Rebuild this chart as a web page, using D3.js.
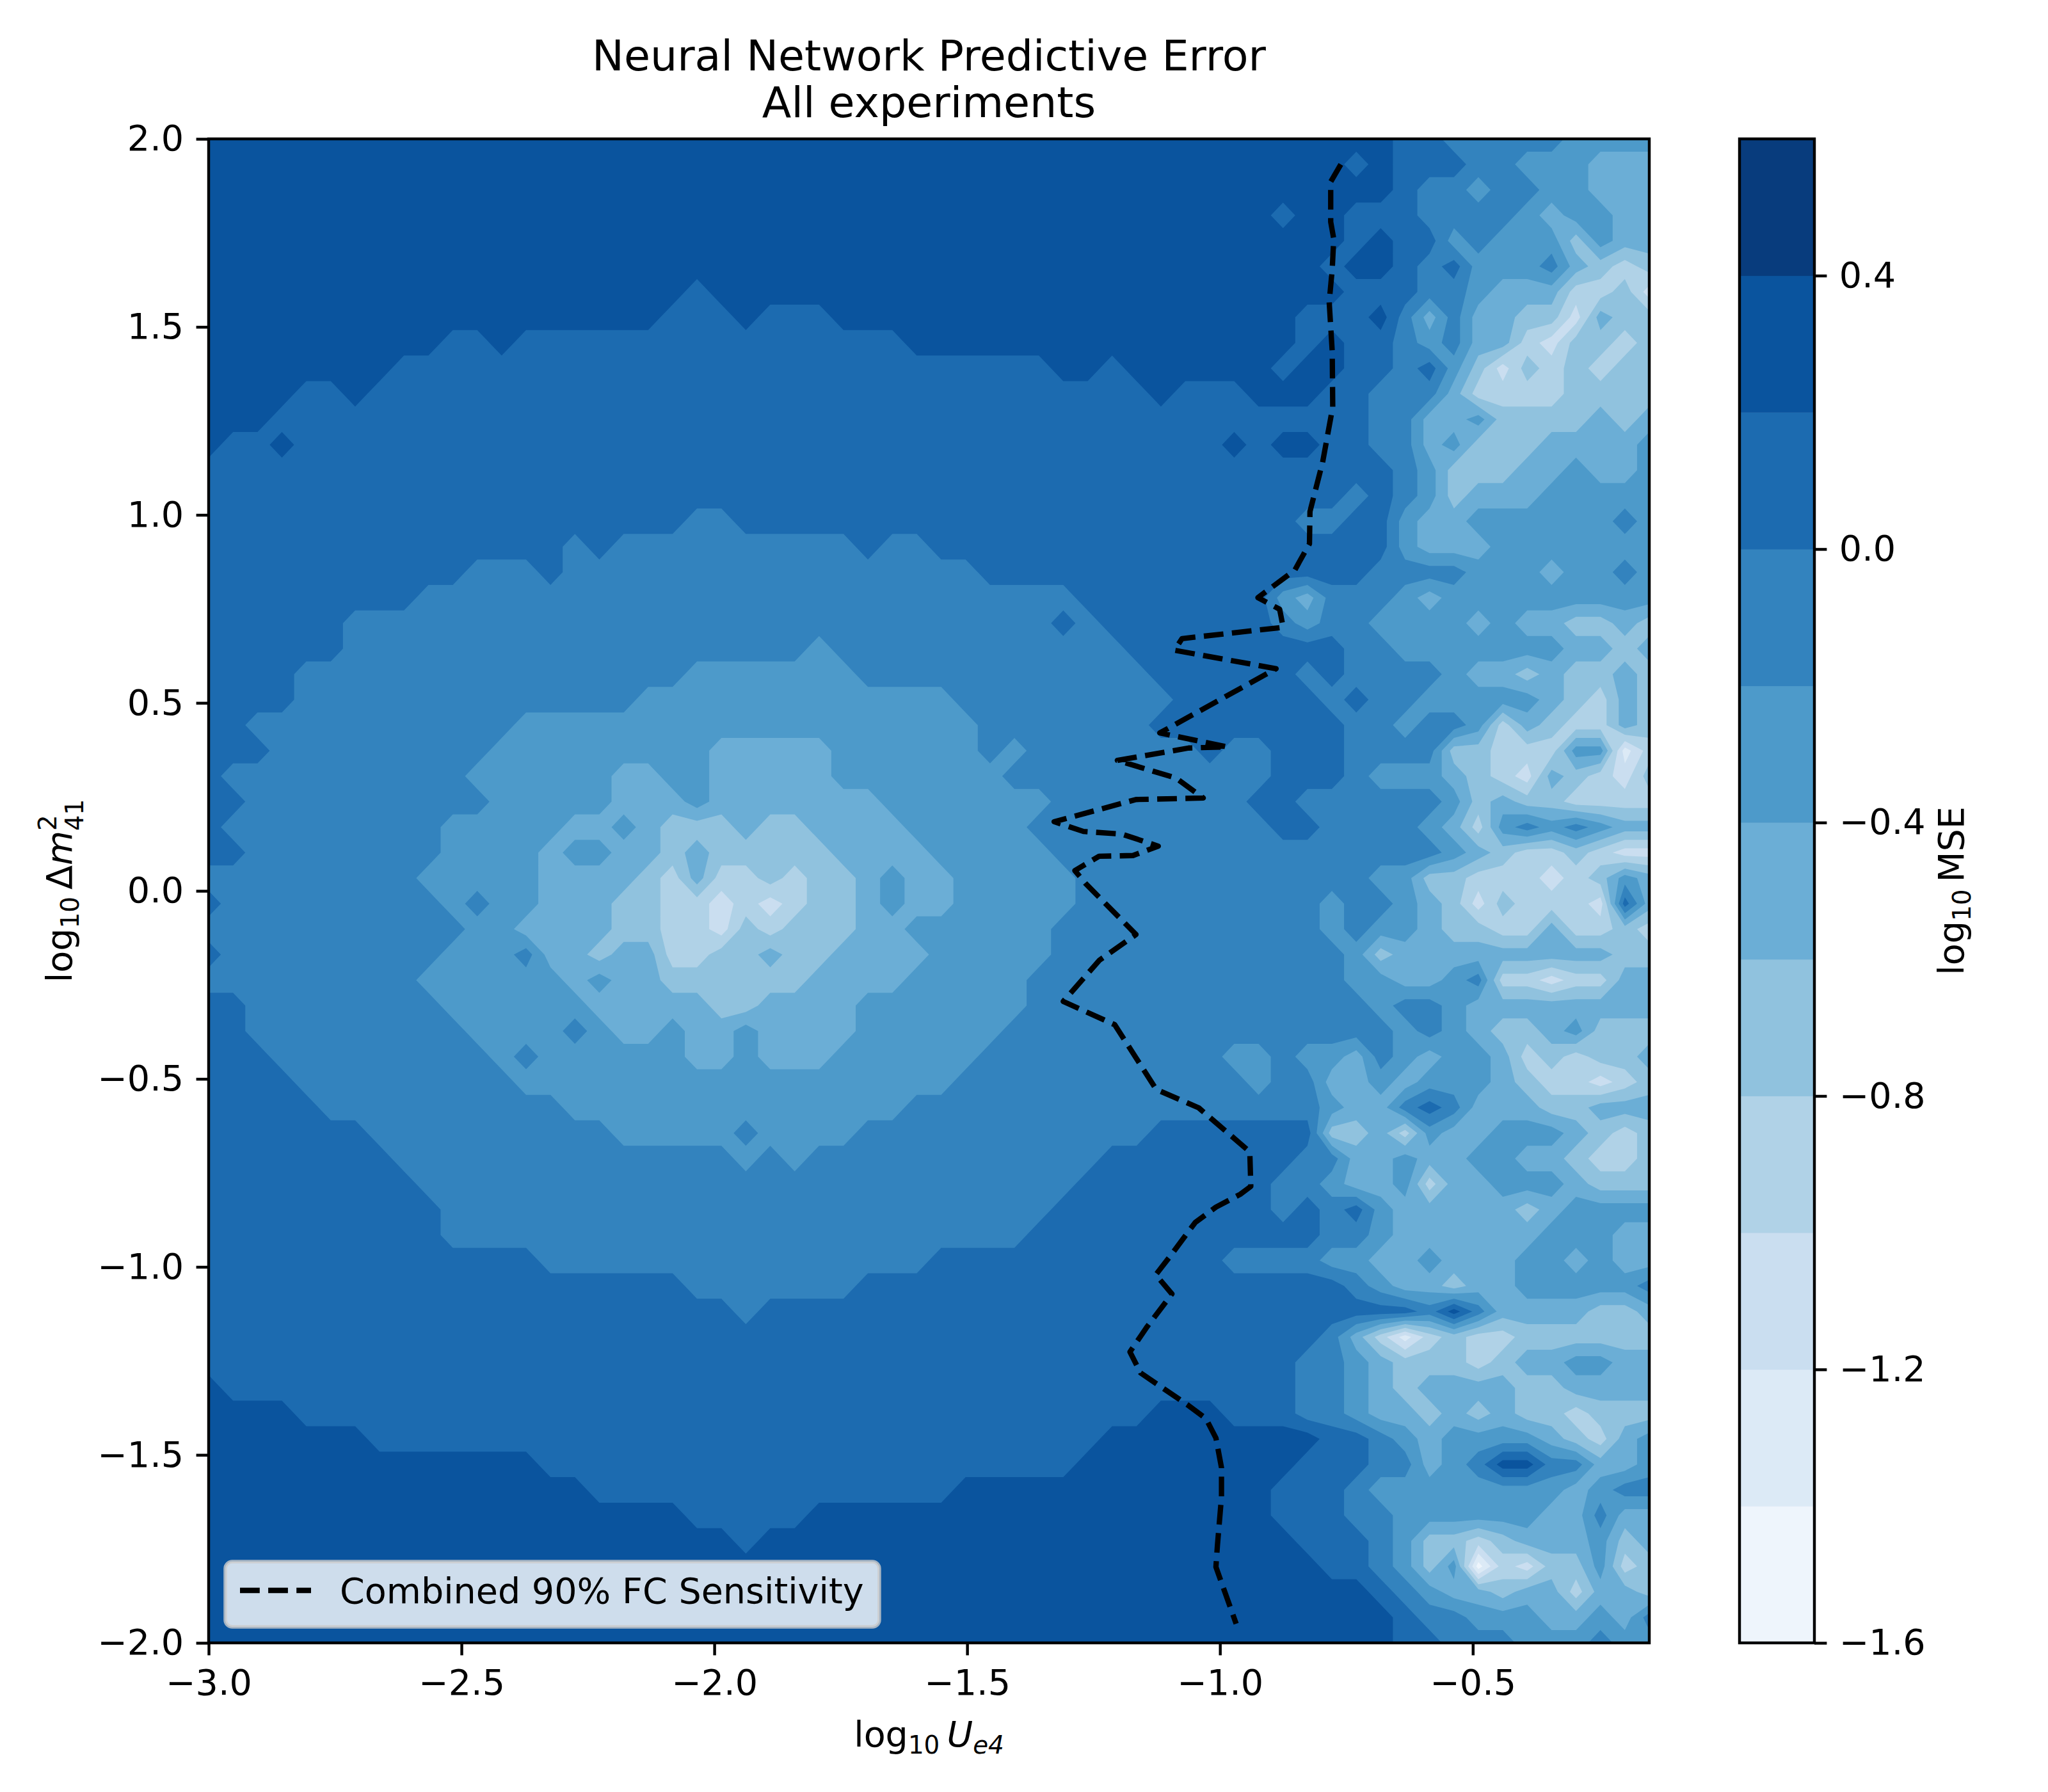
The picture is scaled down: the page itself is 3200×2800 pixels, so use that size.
<!DOCTYPE html>
<html><head><meta charset="utf-8">
<script src="https://cdn.jsdelivr.net/npm/d3@7/dist/d3.min.js"></script>
<style>html,body{margin:0;padding:0;background:#fff}svg{display:block}text{font-family:"DejaVu Sans";fill:#000}</style>
</head><body><svg id="c" width="3200" height="2800"></svg>
<script>
// Band edges of log10 MSE and colour-bar ticks
const levels=[-1.6,-1.4,-1.2,-1.0,-0.8,-0.6,-0.4,-0.2,0.0,0.2,0.4,0.6];
const cbarTicks=[-1.6,-1.2,-0.8,-0.4,0.0,0.4];
const xTicks=[-3,-2.5,-2,-1.5,-1,-0.5];
const yTicks=[-2,-1.5,-1,-0.5,0,0.5,1,1.5,2];
const xDomain=[-3,-0.151], yDomain=[-2,2];
// Band read per grid cell (0 = lightest band), top row first: columns 0-40
const bandsLeft=[
"99999999999999999999999999999999999999999",
"99999999999999999999999999999999999999999",
"99999999999999999999999999999999999999999",
"99999999999999999999999999999999999999999",
"99999999999999999999999999999999999999999",
"99999999999999999999999999999999999999999",
"99999999999999999999899999999999999999999",
"99999999999999999998889888999999999999999",
"99999999998898888888888888888999999999999",
"99999999888888888888888888888888888998999",
"99998898888888888888888888888888888888898",
"99988888888888888888888888888888888888888",
"98898888888888888888888888888888888888888",
"88888888888888888888888888888888888888888",
"88888888888888888888888888888888888888888",
"88888888888888888888778888888888888888888",
"88888888888888878777777777787788888888888",
"88888888888777877777777777777777888888888",
"88888888877777777777777777777777777788888",
"88888877777777777777777777777777777878888",
"88888877777777777777777776777777777777888",
"88887777777777777777666666677777777777788",
"88887777777777777766666666666667777777778",
"88777777777776666666666666666666777777788",
"88877777777766666666655555666666767777777",
"87777777777666666556655555666666677777777",
"88777777777766666555655555556666666777777",
"87777777776666655654445445555666667777777",
"88777777776666566554544444555566666777777",
"7777777776666655554353343445655"+"6666677777",
"8777777777"+"6766"+"555"+"44"+"33"+"2323"+"44"+"5"+"6"+"55"+"66666"+"77777",
"7777777777"+"7"+"66"+"5555"+"4433"+"243"+"444"+"556"+"66666"+"777777",
"8777777777"+"666"+"7"+"55455"+"33"+"44"+"5"+"44"+"5555"+"66666"+"777777",
"7777777776"+"66666"+"5"+"6"+"55"+"444444"+"5555"+"66666"+"7777777",
"88777777776666665555544555566666667777777",
"88777777777"+"6666"+"7"+"6"+"55"+"6"+"55"+"6"+"5555"+"666666"+"77777777",
"888777777777"+"6"+"7"+"666666"+"55"+"6"+"555"+"666666"+"777777777",
"88887777777776666666666666666667777777777",
"88888777777777766666666666666777777777777",
"88888887777777777666667666677777777777788",
"88888888777777777777776767777777777778888",
"88888888877777777777777777777777777788888",
"88888888887777777777777777777777777888888",
"88888888887777777777777777777777778888888",
"88888888888888777777777777777788888888888",
"88888888888888888888777777788888888888888",
"88888888888888888888887888888888888888888",
"88888888888888888888888888888888888888888",
"88888888888888888888888888888888888888888",
"98888888888888888888888888888888888888888",
"99998888888888888888888888888888888888899",
"99999998888888888888888888888888888889999",
"99999999999999888888888888888888888899999",
"99999999999999998888888888888889999999999",
"99999999999999999999888889999999999999999",
"99999999999999999999998999999999999999999",
"99999999999999999999999999999999999999999",
"99999999999999999999999999999999999999999",
"99999999999999999999999999999999999999999",
"99999999999999999999999999999999999999999"];
// Columns 41-59
const bandsRight=[
"9999999988777776666","9999998988877666555","9999999987767766555","9998998887777656655",
"9999998988676664655","9999989987866675434","9999998887765553342","9999888975755442544",
"9999898876755324434","9998998878642434344","8899988777533334444","8888888775564444545",
"8989988775644455556","8888888876444556556","8888887876455566666","8888778865566666676",
"8888888865556666666","8888888777766656676","8886577765666666666","8887677666656554454",
"8888887766666665545","8888787777655454454","8888878776666654354","8888887767763543354",
"8778887777443336613","7778887666543254324","7788777777645443333","7778877776536767655",
"7777777777654334322","7777777664433323465","7777767765424333285","7777767665443353343",
"7777776455555555544","7777776655673323355","7777777677655555555","7777777767654456444",
"7667665765665343445","7767755656665433234","7777765578755544555","8888844536556665434",
"8888775565566554334","8887765563556665444","8887878655555456666","8888877655555566655",
"8777766556555665655","8888887655455666667","8888888887975555445","8888875313433444444",
"8888776544434556655","8888776545555445555","9888776554545443444","9999988765666654356",
"9999888775679977556","9998887666666665677","9998887766666655755","9999888764434555645",
"9999988764603244634","9999999876554553554","9999999987766655657","9999999988777666766"];
// Combined 90% FC sensitivity curve
const sensX=[-0.761,-0.781,-0.781,-0.775,-0.778,-0.784,-0.778,-0.777,-0.797,-0.822,-0.823,-0.841,-0.852,-0.925,-0.882,-0.875,-1.075,-1.090,-0.889,-1.119,-0.986,-1.062,-1.203,-1.087,-1.033,-1.166,-1.328,-1.301,-1.270,-1.194,-1.122,-1.172,-1.239,-1.287,-1.266,-1.166,-1.238,-1.310,-1.208,-1.126,-1.042,-0.941,-0.939,-0.960,-1.008,-1.049,-1.097,-1.127,-1.095,-1.144,-1.178,-1.157,-1.062,-1.028,-1.008,-0.997,-0.997,-1.005,-1.008,-0.968];
const sensY=[1.932,1.886,1.779,1.734,1.653,1.566,1.435,1.287,1.140,1.009,0.923,0.880,0.853,0.780,0.749,0.701,0.671,0.640,0.591,0.420,0.383,0.380,0.347,0.300,0.247,0.243,0.184,0.172,0.158,0.151,0.119,0.094,0.092,0.054,0.020,-0.116,-0.184,-0.294,-0.356,-0.528,-0.577,-0.694,-0.786,-0.807,-0.841,-0.882,-0.969,-1.021,-1.072,-1.159,-1.226,-1.282,-1.369,-1.403,-1.455,-1.534,-1.612,-1.740,-1.798,-1.949];
const legendLabel="Combined 90% FC Sensitivity";
const titleLines=["Neural Network Predictive Error","All experiments"];

const L=326,R=2577,T=217,B=2567,CL=2718,CR=2835;
const fs=55.56, lw=4.44, tl=19.4;
const svg=d3.select("#c");
const x=d3.scaleLinear().domain(xDomain).range([L,R]);
const y=d3.scaleLinear().domain(yDomain).range([B,T]);
const cy=d3.scaleLinear().domain([levels[0],levels[levels.length-1]]).range([B,T]);
const blues=d3.scaleLinear().domain(d3.range(9).map(i=>i/8))
  .range(["#f7fbff","#deebf7","#c6dbef","#9ecae1","#6baed6","#4292c6","#2171b5","#08519c","#08306b"]);
const bandColor=i=>blues((i+0.5)/(levels.length-1));

const nx=60,ny=60;
const dx=(xDomain[1]-xDomain[0])/(nx-1), dy=(yDomain[1]-yDomain[0])/(ny-1);
const grid=[];
for(let r=0;r<ny;r++){
  const s=bandsLeft[r].padEnd(41,"8").slice(0,41)+bandsRight[r].padEnd(19,"6").slice(0,19);
  for(let c=0;c<nx;c++){ const b=+s[c]; grid.push((levels[b]+levels[b+1])/2); }
}
const thresholds=levels.slice(0,-1).map(v=>v-1e-9);
const contours=d3.contours().size([nx,ny]).thresholds(thresholds).smooth(true)(grid);
const proj=d3.geoTransform({point(px,py){
  this.stream.point(x(xDomain[0]+(px-0.5)*dx), y(yDomain[1]-(py-0.5)*dy));
}});
const path=d3.geoPath(proj);
svg.append("clipPath").attr("id","plot").append("rect").attr("x",L).attr("y",T).attr("width",R-L).attr("height",B-T);
const plot=svg.append("g").attr("clip-path","url(#plot)");
plot.append("rect").attr("x",L).attr("y",T).attr("width",R-L).attr("height",B-T).attr("fill",bandColor(0));
plot.selectAll("path.band").data(contours).join("path").attr("class","band")
  .attr("d",path).attr("fill",(d,i)=>bandColor(i));

const line=d3.line().x(d=>x(d[0])).y(d=>y(d[1]));
plot.append("path").attr("d",line(d3.zip(sensX,sensY))).attr("fill","none").attr("stroke","#000")
  .attr("stroke-width",8.33).attr("stroke-dasharray","30.8 13.3").attr("stroke-linejoin","round");

const minus=f=>v=>f(v).replace("-","\u2212");
function styleAxis(g){
  g.select(".domain").remove();
  g.selectAll(".tick line").attr("stroke","#000").attr("stroke-width",lw);
  g.selectAll(".tick text").attr("font-size",fs).attr("font-family","DejaVu Sans").attr("fill","#000");
}
svg.append("g").attr("transform",`translate(0,${B})`)
  .call(d3.axisBottom(x).tickValues(xTicks).tickSize(tl).tickPadding(tl+3).tickFormat(minus(d3.format(".1f")))).call(styleAxis);
svg.append("g").attr("transform",`translate(${L},0)`)
  .call(d3.axisLeft(y).tickValues(yTicks).tickSize(tl).tickPadding(tl).tickFormat(minus(d3.format(".1f")))).call(styleAxis);
svg.append("rect").attr("x",L).attr("y",T).attr("width",R-L).attr("height",B-T).attr("fill","none").attr("stroke","#000").attr("stroke-width",lw);

// Colour bar
svg.selectAll("rect.cb").data(levels.slice(0,-1)).join("rect").attr("class","cb")
  .attr("x",CL).attr("width",CR-CL).attr("y",(d,i)=>cy(levels[i+1])).attr("height",(d,i)=>cy(levels[i])-cy(levels[i+1])+0.5)
  .attr("fill",(d,i)=>bandColor(i));
svg.append("g").attr("transform",`translate(${CR},0)`)
  .call(d3.axisRight(cy).tickValues(cbarTicks).tickSize(tl).tickPadding(tl).tickFormat(minus(d3.format(".1f")))).call(styleAxis);
svg.append("rect").attr("x",CL).attr("y",T).attr("width",CR-CL).attr("height",B-T).attr("fill","none").attr("stroke","#000").attr("stroke-width",lw);

// Math-style labels
function mathLabel(sel,parts){
  parts.forEach(p=>{
    const t=sel.append("tspan").text(p.t);
    if(p.i) t.attr("font-style","italic");
    if(p.s) t.attr("font-size",fs*0.7);
    if(p.dy) t.attr("dy",p.dy);
    if(p.dx) t.attr("dx",p.dx);
  });
}
const xl=svg.append("text").attr("x",(L+R)/2).attr("y",2729).attr("text-anchor","middle").attr("font-size",fs);
mathLabel(xl,[{t:"log"},{t:"10",s:1,dy:11},{t:"\u2009"},{t:"U",i:1,dy:-11},{t:"e4",i:1,s:1,dy:11}]);
const yl=svg.append("text").attr("transform",`translate(112,${(T+B)/2}) rotate(-90)`).attr("text-anchor","middle").attr("font-size",fs);
mathLabel(yl,[{t:"log"},{t:"10",s:1,dy:11},{t:"\u2009\u0394",dy:-11},{t:"m",i:1},{t:"2",s:1,dy:-24},{t:"41",s:1,i:0,dy:42,dx:-25}]);
const cl=svg.append("text").attr("transform",`translate(3068,${(T+B)/2}) rotate(-90)`).attr("text-anchor","middle").attr("font-size",fs);
mathLabel(cl,[{t:"log"},{t:"10",s:1,dy:11},{t:"\u2009MSE",dy:-11}]);

svg.selectAll("text.title").data(titleLines).join("text").attr("class","title")
  .attr("x",(L+R)/2).attr("y",(d,i)=>110+i*73).attr("text-anchor","middle").attr("font-size",66.67).text(d=>d);

// Legend
const lg=svg.append("g");
lg.append("rect").attr("x",352).attr("y",2440).attr("width",1022).attr("height",102).attr("rx",11)
  .attr("fill","#fff").attr("fill-opacity",0.8).attr("stroke","#ccc").attr("stroke-opacity",0.8).attr("stroke-width",5.56);
lg.append("line").attr("x1",375).attr("x2",486).attr("y1",2485).attr("y2",2485).attr("stroke","#000").attr("stroke-width",8.33).attr("stroke-dasharray","30.8 13.3");
lg.append("text").attr("x",531).attr("y",2505).attr("font-size",fs).text(legendLabel);
</script></body></html>
